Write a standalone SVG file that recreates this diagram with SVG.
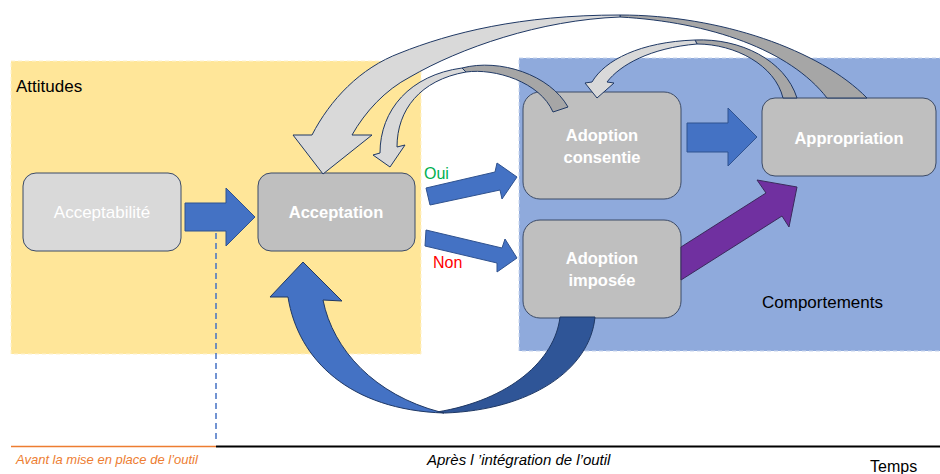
<svg xmlns="http://www.w3.org/2000/svg" width="940" height="474" viewBox="0 0 940 474">
<style>
.node rect{stroke:#3b4a66;stroke-width:1}
.lbl{font-family:"Liberation Sans",Arial,sans-serif;fill:#ffffff;text-anchor:middle}
.b{font-weight:bold;font-size:16.5px}
.txt{font-family:"Liberation Sans",Arial,sans-serif;fill:#000000}
.blue{fill:#4472c4;stroke:#2f528f;stroke-width:1}
.gl{fill:#d9d9d9;stroke:#1f3864;stroke-width:1;stroke-linejoin:round}
.gd{fill:#a6a6a6;stroke:#1f3864;stroke-width:1;stroke-linejoin:round}
</style>
<rect width="940" height="474" fill="#ffffff"/>
<g id="zone-attitudes">
<rect x="11" y="61" width="410" height="293" fill="#ffe699" stroke="#fff2cc" stroke-width="1" stroke-dasharray="4 3"/>
<text class="txt" x="16" y="92" font-size="17">Attitudes</text>
</g>
<g id="zone-comportements">
<rect x="519" y="58" width="424" height="293" fill="#8faadc" stroke="#c9d6ee" stroke-width="1" stroke-dasharray="4 3"/>
<text class="txt" x="762" y="308" font-size="17">Comportements</text>
</g>
<g id="axis">
<line x1="216" y1="233" x2="216" y2="443" stroke="#4472c4" stroke-width="1.5" stroke-dasharray="6 4"/>
<line x1="11" y1="446.5" x2="216" y2="446.5" stroke="#ed7d31" stroke-width="1.5"/>
<line x1="216" y1="446.5" x2="940" y2="446.5" stroke="#000000" stroke-width="2"/>
<text x="16" y="464" font-family="Liberation Sans,Arial,sans-serif" font-style="italic" font-size="13" fill="#ed7d31">Avant la mise en place de l’outil</text>
<text x="427" y="465" font-family="Liberation Sans,Arial,sans-serif" font-style="italic" font-size="15" fill="#000000">Après l ’intégration de l’outil</text>
<text class="txt" x="870" y="472" font-size="16">Temps</text>
</g>
<g id="node-acceptabilite" class="node">
<rect x="23" y="173" width="158" height="78" rx="13" fill="#d9d9d9"/>
<text class="lbl" x="102" y="218" font-size="17" fill="#f2f2f2">Acceptabilité</text>
</g>
<g id="node-acceptation" class="node">
<rect x="258" y="173" width="157" height="78" rx="13" fill="#bfbfbf"/>
<text class="lbl b" x="336" y="218">Acceptation</text>
</g>
<g id="node-adoption-consentie" class="node">
<rect x="523" y="92" width="158" height="107" rx="17" fill="#bfbfbf"/>
<text class="lbl b" x="602" y="141">Adoption</text>
<text class="lbl b" x="602" y="163">consentie</text>
</g>
<g id="node-adoption-imposee" class="node">
<rect x="523" y="220" width="158" height="98" rx="17" fill="#bfbfbf"/>
<text class="lbl b" x="602" y="264">Adoption</text>
<text class="lbl b" x="602" y="286">imposée</text>
</g>
<g id="node-appropriation" class="node">
<rect x="762" y="98" width="174" height="78" rx="13" fill="#bfbfbf"/>
<text class="lbl b" x="849" y="144">Appropriation</text>
</g>
<g id="connectors">
<polygon class="blue" points="185,203 226,203 226,188 255,217 226,246 226,231 185,231"/>
<polygon class="blue" points="687,123 728,123 728,108 757,137 728,166 728,152 687,152"/>
<polygon class="blue" points="426,188 495,172 497,163 517,177 502,199 500,190 430,205"/>
<polygon class="blue" points="426,230 502,248 505,239 517,258 497,272 497,263 425,246"/>
<polygon points="681,247 766,193 757,180 797,187 789,227 782,216 681,280" fill="#7030a0" stroke="#3b2a5c" stroke-width="1"/>
<path d="M560,317 L595,317 C590,370 530,410 445,413 L437,412 C510,400 555,360 560,317 Z" fill="#2f5597" stroke="#1f3864" stroke-width="1"/>
<path d="M303,262 L342,301 L323,300 C333,350 375,395 440,412 L444,413 C350,410 298,360 288,297 L270,297 Z" fill="#4472c4" stroke="#1f3864" stroke-width="1"/>
<path class="gd" d="M620,17 C710,22 790,50 827,98 L867,98 C820,50 720,15 620,15 Z"/>
<path class="gl" d="M323,174 L372,135 L352,135 C365,112 385,90 410,77 C460,48 540,20 620,17 L620,15 C520,15 450,33 400,53 C360,68 330,100 312,135 L293,135 Z"/>
<path class="gd" d="M462,68 C500,58 550,75 568,107 L553,112 C540,82 495,68 466,72 Z"/>
<path class="gl" d="M390,167 L405,145 L397,147 C397,110 420,80 466,72 L462,68 C410,75 380,110 380,153 L373,155 Z"/>
<path class="gd" d="M695,40 C740,38 785,60 797,98 L783,98 C775,65 735,44 697,44 Z"/>
<path class="gl" d="M597,98 L614,83 L607,82 C620,65 650,48 697,44 L695,40 C640,42 605,60 592,82 L585,83 Z"/>
<text x="424" y="179" font-family="Liberation Sans,Arial,sans-serif" font-size="16" fill="#00b050">Oui</text>
<text x="433" y="268" font-family="Liberation Sans,Arial,sans-serif" font-size="16" fill="#ff0000">Non</text>
</g>
</svg>
